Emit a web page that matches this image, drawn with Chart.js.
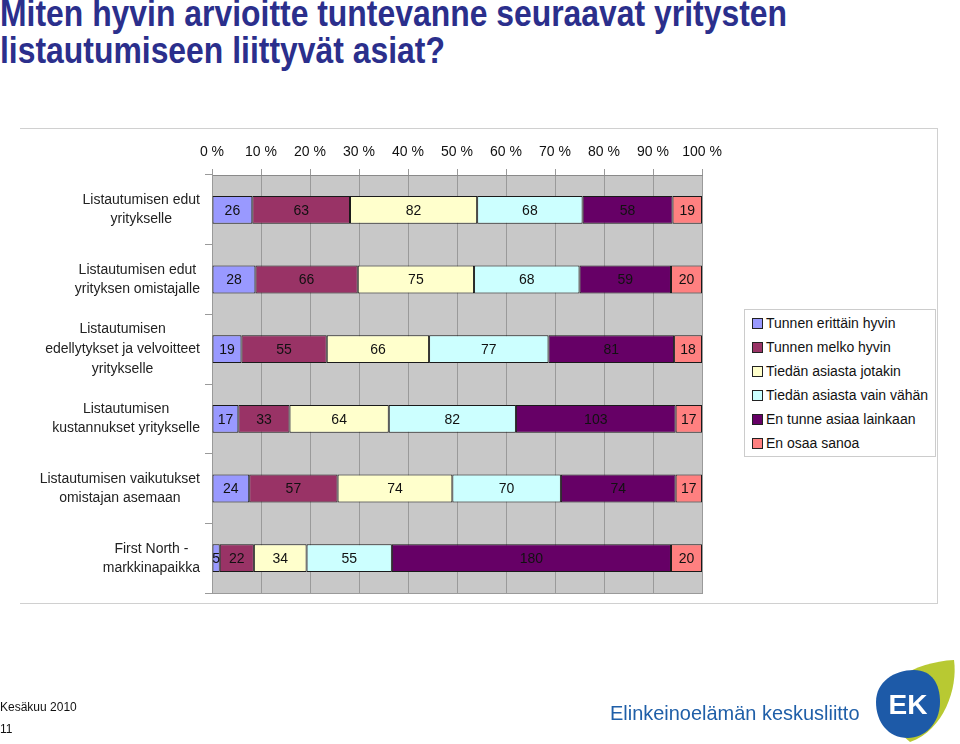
<!DOCTYPE html>
<html>
<head>
<meta charset="utf-8">
<script src="https://cdn.jsdelivr.net/npm/chart.js@4/dist/chart.umd.min.js"></script>
<style>
  body { margin: 0; background: #fff; font-family: "Liberation Sans", Arial, sans-serif; }
  #wrap { position: relative; width: 960px; height: 744px; overflow: hidden; }
  #title { position: absolute; left: 0; top: -5px; margin: 0; font-family: "Liberation Sans", Arial, sans-serif;
           font-weight: bold; font-size: 36px; line-height: 37px; color: #2b2f8c; white-space: nowrap; transform-origin: 0 0; }
  #frame { position: absolute; left: 20px; top: 128px; width: 917px; height: 474px; border: 1px solid #d0d0d0; border-left: none; }
  canvas { position: absolute; left: 0; top: 0; }
  #legend { position: absolute; left: 744px; top: 309px; width: 190px; height: 146px; border: 1px solid #ccc; background: #fff;
            font-size: 14px; color: #111; }
  #legend div { position: absolute; left: 7px; white-space: nowrap; }
  #legend span.box { display: inline-block; width: 9px; height: 9px; border: 1px solid #222; margin-right: 3px; vertical-align: -1px; }
  .foot { position: absolute; left: 0; font-size: 12px; color: #111; }
  #ek { position: absolute; left: 610px; top: 701px; font-size: 21px; color: #1f5fa8; white-space: nowrap; transform-origin: 0 0; transform: scaleX(0.95); }
  #logo { position: absolute; left: 870px; top: 656px; }
</style>
</head>
<body>
<div id="wrap">
  <h1 id="title"><span id="t1">Miten hyvin arvioitte tuntevanne seuraavat yritysten</span><br>listautumiseen liittyvät asiat?</h1>
  <div id="frame"></div>
  <canvas id="myChart" width="960" height="744"></canvas>
  <div id="legend"></div>
  <div class="foot" style="top:700px">Kesäkuu 2010</div>
  <div class="foot" style="top:722px">11</div>
  <div id="ek">Elinkeinoelämän keskusliitto</div>
  <svg id="logo" width="88" height="88" viewBox="0 0 88 88">
    <path d="M8 58 C 8 28, 44 6, 84 4 C 88 32, 74 74, 40 86 Z" fill="#b8c932"/>
    <path d="M6 46 C 6 26, 24 14, 44 14 C 62 14, 70 28, 70 46 C 70 68, 54 82, 38 82 C 18 82, 6 66, 6 46 Z" fill="#1d5aa8"/>
    <text x="38" y="58" font-family="Liberation Sans, Arial" font-weight="bold" font-size="28" fill="#fff" text-anchor="middle">EK</text>
  </svg>
</div>
<script>
const ctx = document.getElementById('myChart');

var categories = [
    ['Listautumisen edut', 'yritykselle'],
    ['Listautumisen edut', 'yrityksen omistajalle'],
    ['Listautumisen', 'edellytykset ja velvoitteet', 'yritykselle'],
    ['Listautumisen', 'kustannukset yritykselle'],
    ['Listautumisen vaikutukset', 'omistajan asemaan'],
    ['First North -', 'markkinapaikka']
];
var seriesNames = ['Tunnen erittäin hyvin', 'Tunnen melko hyvin', 'Tiedän asiasta jotakin',
    'Tiedän asiasta vain vähän', 'En tunne asiaa lainkaan', 'En osaa sanoa'];
var s1 = [26, 28, 19, 17, 24, 5];
var s2 = [63, 66, 55, 33, 57, 22];
var s3 = [82, 75, 66, 64, 74, 34];
var s4 = [68, 68, 77, 82, 70, 55];
var s5 = [58, 59, 81, 103, 74, 180];
var s6 = [19, 20, 18, 17, 17, 20];
var tickValues = [0, 10, 20, 30, 40, 50, 60, 70, 80, 90, 100];
var colors = ['#9999ff', '#993366', '#ffffcc', '#ccffff', '#660066', '#ff8080'];

// squeeze title to the narrow look of the original
var t1 = document.getElementById('t1');
document.getElementById('title').style.transform = 'scaleX(' + (787 / t1.getBoundingClientRect().width) + ')';

var counts = [s1, s2, s3, s4, s5, s6];
var totals = categories.map(function(c, i) {
    var t = 0;
    for (var k = 0; k < counts.length; k++) t += counts[k][i];
    return t;
});

var datasets = [];
for (var k = 0; k < counts.length; k++) {
    datasets.push({
        label: seriesNames[k],
        data: counts[k].map(function(v, i) { return v / totals[i] * 100; }),
        backgroundColor: colors[k],
        borderColor: '#1a1a1a',
        borderWidth: 1,
        borderSkipped: false,
        barPercentage: 0.4,
        categoryPercentage: 1
    });
}

// legend as html
var leg = document.getElementById('legend');
seriesNames.forEach(function(n, i) {
    var d = document.createElement('div');
    d.style.top = (5 + i * 24) + 'px';
    d.innerHTML = '<span class="box" style="background:' + colors[i] + '"></span>' + n;
    leg.appendChild(d);
});

const plotBg = {
    id: 'plotBg',
    beforeDraw(chart) {
        var a = chart.chartArea, c = chart.ctx;
        c.save();
        c.fillStyle = '#c8c8c8';
        c.fillRect(a.left, a.top, a.right - a.left, a.bottom - a.top);
        c.strokeStyle = '#9a9a9a';
        c.lineWidth = 1;
        c.strokeRect(a.left + 0.5, a.top + 0.5, a.right - a.left, a.bottom - a.top);
        c.restore();
    }
};

const labelsPlugin = {
    id: 'labelsPlugin',
    afterDatasetsDraw(chart) {
        var c = chart.ctx;
        c.save();
        c.font = '14px "Liberation Sans", Arial, sans-serif';
        c.fillStyle = '#111';
        c.textAlign = 'center';
        c.textBaseline = 'middle';
        chart.data.datasets.forEach(function(ds, k) {
            chart.getDatasetMeta(k).data.forEach(function(el, i) {
                c.fillText(String(counts[k][i]), (el.x + el.base) / 2, el.y + 1);
            });
        });
        // category labels, block right aligned, lines centred
        var ys = chart.scales.y;
        c.fillStyle = '#222';
        categories.forEach(function(lines, i) {
            var w = 0;
            lines.forEach(function(l) { w = Math.max(w, c.measureText(l).width); });
            var cx = ys.right - 12 - w / 2;
            var yc = ys.getPixelForValue(i);
            var lh = lines.length > 2 ? 20 : 19;
            lines.forEach(function(l, j) {
                c.fillText(l, cx, yc + (j - (lines.length - 1) / 2) * lh);
            });
        });
        c.restore();
    }
};

const myChart = new Chart(ctx, {
    type: 'bar',
    data: {
        labels: categories,
        datasets: datasets
    },
    options: {
        indexAxis: 'y',
        responsive: false,
        animation: false,
        layout: { padding: { left: 20, right: 258, top: 128, bottom: 151 } },
        plugins: { legend: { display: false }, tooltip: { enabled: false } },
        scales: {
            x: {
                position: 'top',
                stacked: true,
                min: 0,
                max: 100,
                afterBuildTicks: function(axis) {
                    axis.ticks = tickValues.map(function(v) { return { value: v }; });
                },
                afterFit: function(axis) { axis.height = 47; },
                grid: { color: '#9a9a9a', tickLength: 6, drawTicks: true },
                border: { color: '#8a8a8a' },
                ticks: {
                    padding: 8,
                    color: '#111',
                    font: { family: '"Liberation Sans", Arial, sans-serif', size: 14 },
                    callback: function(v) { return v + ' %'; }
                }
            },
            y: {
                stacked: true,
                afterFit: function(axis) { axis.width = 192; },
                grid: { drawOnChartArea: false, color: '#9a9a9a', tickLength: 7 },
                border: { color: '#9a9a9a' },
                ticks: { display: false }
            }
        }
    },
    plugins: [plotBg, labelsPlugin]
});
</script>
</body>
</html>
